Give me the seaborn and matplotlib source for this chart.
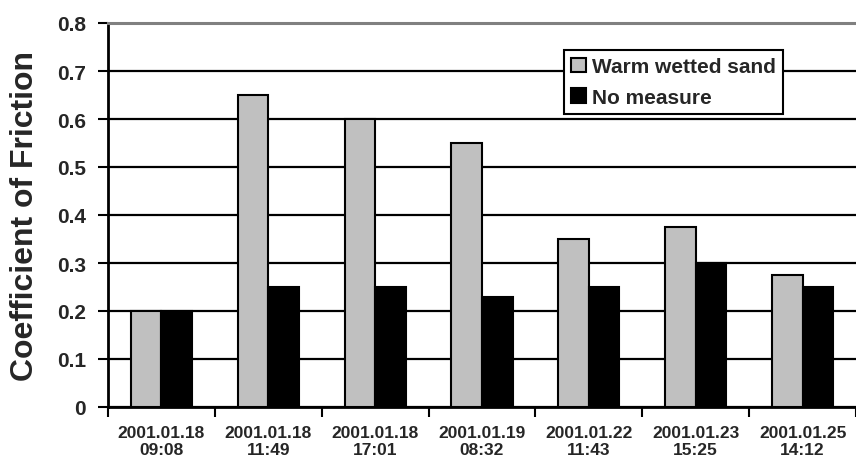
import numpy as np
import pandas as pd
import matplotlib
matplotlib.use("Agg")
import matplotlib.pyplot as plt
import seaborn as sns

#%% data
dates = ["2001.01.18\n09:08", "2001.01.18\n11:49", "2001.01.18\n17:01",
         "2001.01.19\n08:32", "2001.01.22\n11:43", "2001.01.23\n15:25",
         "2001.01.25\n14:12"]
warm_sand = [0.20, 0.65, 0.60, 0.55, 0.35, 0.375, 0.275]
no_measure = [0.20, 0.25, 0.25, 0.23, 0.25, 0.30, 0.25]
series = ["Warm wetted sand", "No measure"]
y_ticks = [0, 0.1, 0.2, 0.3, 0.4, 0.5, 0.6, 0.7, 0.8]
y_tick_labels = ["0", "0.1", "0.2", "0.3", "0.4", "0.5", "0.6", "0.7", "0.8"]

df = pd.DataFrame({
    "date": dates * 2,
    "cof": warm_sand + no_measure,
    "series": [series[0]] * len(dates) + [series[1]] * len(dates),
})

#%% plot
sns.set_style("white")
plt.rcParams["font.family"] = ["Liberation Sans", "DejaVu Sans"]
plt.rcParams["font.weight"] = "bold"

fig = plt.figure(figsize=(8.56, 4.64), dpi=100)
ax = fig.add_axes([108 / 856, 1 - 408 / 464, 748 / 856, 384 / 464])

sns.barplot(data=df, x="date", y="cof", hue="series", order=dates,
            hue_order=series, palette=["#c0c0c0", "#000000"],
            edgecolor="black", linewidth=1.5, width=0.572,
            errorbar=None, ax=ax)

ax.set_ylim(0, 0.8)
ax.set_xlim(-0.5, len(dates) - 0.5)
ax.set_yticks(y_ticks)
ax.set_yticklabels(y_tick_labels, fontsize=15, fontweight="bold")
ax.set_xticks(range(len(dates)))
ax.set_xticklabels(dates, fontsize=12.5, fontweight="bold", linespacing=1.15)
ax.set_xticks(np.arange(-0.5, len(dates), 1), minor=True)
ax.tick_params(axis="x", which="major", length=0, pad=13)
ax.tick_params(axis="x", which="minor", length=7, width=1.5, direction="out",
               bottom=True, color="black")
ax.tick_params(axis="y", length=7, width=1.5, direction="out", left=True,
               color="black", pad=9)

ax.set_axisbelow(True)
ax.yaxis.grid(True, color="black", lw=1.6)
ax.xaxis.grid(False)

ax.spines["left"].set_color("black")
ax.spines["left"].set_linewidth(2)
ax.spines["bottom"].set_color("black")
ax.spines["bottom"].set_linewidth(2)
ax.spines["top"].set_color("#808080")
ax.spines["top"].set_linewidth(2.2)
ax.spines["right"].set_visible(False)

ax.set_xlabel("")
ax.set_ylabel("Coefficient of Friction", fontsize=23, fontweight="bold",
              labelpad=12)

leg = ax.legend(loc="upper left", bbox_to_anchor=(564 / 856, 1 - 51 / 464),
                bbox_transform=fig.transFigure, fontsize=15,
                frameon=True, fancybox=False, framealpha=1,
                edgecolor="black", handlelength=0.7, handleheight=0.7,
                handletextpad=0.3, labelspacing=0.55, borderpad=0.35,
                borderaxespad=0)
leg.get_frame().set_linewidth(1.5)
for t in leg.get_texts():
    t.set_fontweight("bold")

fig.savefig("out.png", dpi=100)
